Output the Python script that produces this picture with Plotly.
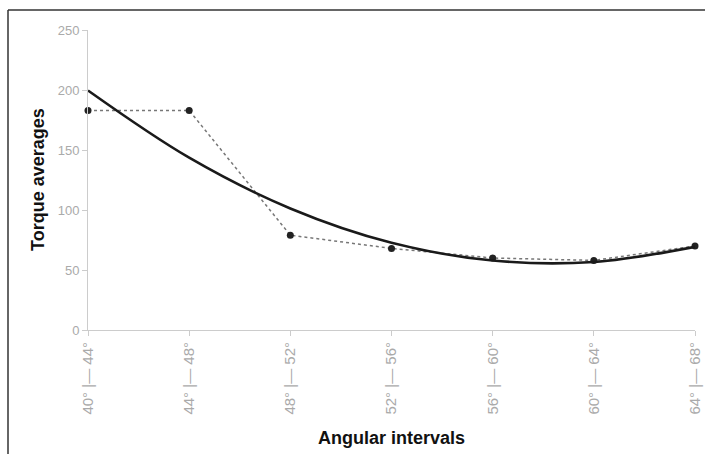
import plotly.graph_objects as go

categories = ["40° |— 44°", "44° |— 48°", "48° |— 52°", "52° |— 56°",
              "56° |— 60°", "60° |— 64°", "64° |— 68°"]
torque_avg = [183, 183, 79, 68, 60, 58, 70]
trend_values = [199.6, 143.6, 101.3, 72.7, 57.9, 56.7, 69.3]
y_ticks = [0, 50, 100, 150, 200, 250]

PW, PH = 607, 300  # plot area size in px

fig = go.Figure()
fig.add_trace(go.Scatter(
    x=categories, y=torque_avg, mode="lines+markers",
    line=dict(color="#777777", width=1.5, dash="dot"),
    marker=dict(color="#222222", size=7),
    cliponaxis=False, showlegend=False))
fig.add_trace(go.Scatter(
    x=categories, y=trend_values, mode="lines",
    line=dict(color="#1a1a1a", width=2.6, shape="spline", smoothing=1.0),
    cliponaxis=False, showlegend=False))

fig.update_layout(
    width=705, height=454,
    margin=dict(l=88, r=10, t=30, b=124, autoexpand=False),
    paper_bgcolor="white", plot_bgcolor="white",
    font=dict(family="Liberation Sans, Arial, sans-serif"),
    xaxis=dict(
        type="category", range=[0, 6], showgrid=False, zeroline=False,
        showline=True, linecolor="#cccccc", linewidth=1, automargin=False,
        ticks="outside", ticklen=5, tickcolor="#cccccc",
        tickangle=-90, tickfont=dict(size=15, color="#aaaaaa")),
    yaxis=dict(
        range=[0, 250], tickvals=y_ticks, showgrid=False, zeroline=False,
        showline=True, linecolor="#cccccc", linewidth=1, automargin=False,
        ticks="outside", ticklen=5, tickcolor="#cccccc",
        tickfont=dict(size=13, color="#aaaaaa")),
    annotations=[
        dict(text="<b>Angular intervals</b>", xref="paper", yref="paper",
             x=0.5, y=-108 / PH, xanchor="center", yanchor="middle",
             showarrow=False, font=dict(size=18, color="#111111")),
        dict(text="<b>Torque averages</b>", xref="paper", yref="paper",
             x=-50 / PW, y=0.5, xanchor="center", yanchor="middle",
             textangle=-90, showarrow=False, font=dict(size=18, color="#111111")),
    ],
    shapes=[
        dict(type="line", xref="paper", yref="paper",
             x0=-80 / PW, x1=1 + 12 / PW, y0=1 + 20 / PH, y1=1 + 20 / PH,
             line=dict(color="#333333", width=1.5)),
        dict(type="line", xref="paper", yref="paper",
             x0=-80 / PW, x1=-80 / PW, y0=1 + 20 / PH, y1=-126 / PH,
             line=dict(color="#333333", width=1.5)),
    ],
)

fig.write_html(
    "out.html",
    config={"displayModeBar": False},
    post_script="document.body.style.margin='0';document.body.style.overflow='hidden';",
)
